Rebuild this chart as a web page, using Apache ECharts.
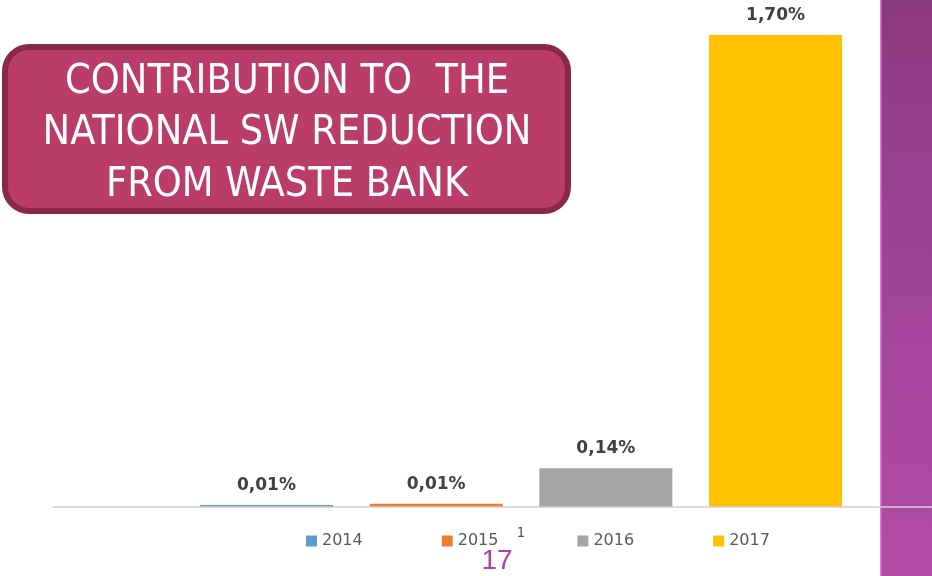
<!DOCTYPE html>
<html>
<head>
<meta charset="utf-8">
<script src="https://cdn.jsdelivr.net/npm/echarts@6/dist/echarts.min.js"></script>
<style>
html,body{margin:0;padding:0;background:#fff;}
#c{width:932px;height:576px;}
</style>
</head>
<body>
<div id="c"></div>
<script>
var categories = ['1'];
var seriesNames = ['2014', '2015', '2016', '2017'];
var seriesValues = [0.007, 0.012, 0.14, 1.70];
var seriesLabels = ['0,01%', '0,01%', '0,14%', '1,70%'];
var seriesColors = ['#5B9BD5', '#ED7D31', '#A5A5A5', '#FFC000'];
var titleLines = ['CONTRIBUTION TO  THE', 'NATIONAL SW REDUCTION', 'FROM WASTE BANK'];
var slideNumber = '17';

var chart = echarts.init(document.getElementById('c'));

var series = seriesNames.map(function (name, i) {
  return {
    name: name,
    type: 'bar',
    data: [seriesValues[i]],
    barWidth: 133,
    barGap: '27.6%',
    itemStyle: { color: seriesColors[i] },
    z: 5,
    label: {
      show: true,
      position: 'top',
      distance: 11,
      formatter: function () { return seriesLabels[i]; },
      fontFamily: 'DejaVu Sans',
      fontWeight: 'bold',
      fontSize: 17,
      color: '#404040'
    }
  };
});

var titleGraphics = titleLines.map(function (t, i) {
  return {
    type: 'text',
    x: 287,
    y: 82 + i * 51.5,
    z: 21,
    style: {
      text: t,
      fill: '#ffffff',
      font: '41px "Liberation Sans Narrow", "DejaVu Sans Condensed", sans-serif',
      align: 'center',
      verticalAlign: 'middle'
    }
  };
});

chart.setOption({
  animation: false,
  grid: { left: 53, top: 35, width: 936, bottom: 69, containLabel: false, outerBoundsMode: 'none' },
  xAxis: {
    type: 'category',
    data: categories,
    axisLine: { show: true, lineStyle: { color: '#D0D0D0', width: 1.5 } },
    axisTick: { show: false },
    axisLabel: { margin: 19, fontFamily: 'DejaVu Sans', fontSize: 14, color: '#595959' },
    z: 10
  },
  yAxis: {
    type: 'value',
    min: 0,
    max: 1.7,
    show: false,
    splitLine: { show: false }
  },
  legend: {
    data: seriesNames,
    left: 301,
    top: 528,
    itemWidth: 11,
    itemHeight: 11,
    itemGap: 79,
    icon: 'rect',
    textStyle: { fontFamily: 'DejaVu Sans', fontSize: 16, color: '#595959' }
  },
  graphic: [
    {
      type: 'rect',
      z: -10,
      shape: { x: 880, y: 0, width: 52, height: 576 },
      style: {
        fill: new echarts.graphic.LinearGradient(0, 0, 0, 1, [
          { offset: 0, color: '#8C3A80' },
          { offset: 0.5, color: '#A2439A' },
          { offset: 1, color: '#B34CA7' }
        ])
      }
    },
    {
      type: 'rect',
      z: -9,
      shape: { x: 880, y: 0, width: 1.5, height: 576 },
      style: { fill: '#E27AD6' }
    },
    {
      type: 'rect',
      z: 20,
      shape: { x: 5, y: 47, width: 563, height: 164, r: 24 },
      style: { fill: '#B93C69', stroke: '#8A2848', lineWidth: 6 }
    }
  ].concat(titleGraphics).concat([
    {
      type: 'text',
      x: 497,
      y: 561,
      z: 21,
      style: {
        text: slideNumber,
        fill: '#B23FA4',
        font: '28px "Liberation Sans", Arial, sans-serif',
        align: 'center',
        verticalAlign: 'middle'
      }
    }
  ]),
  series: series
});
</script>
</body>
</html>
